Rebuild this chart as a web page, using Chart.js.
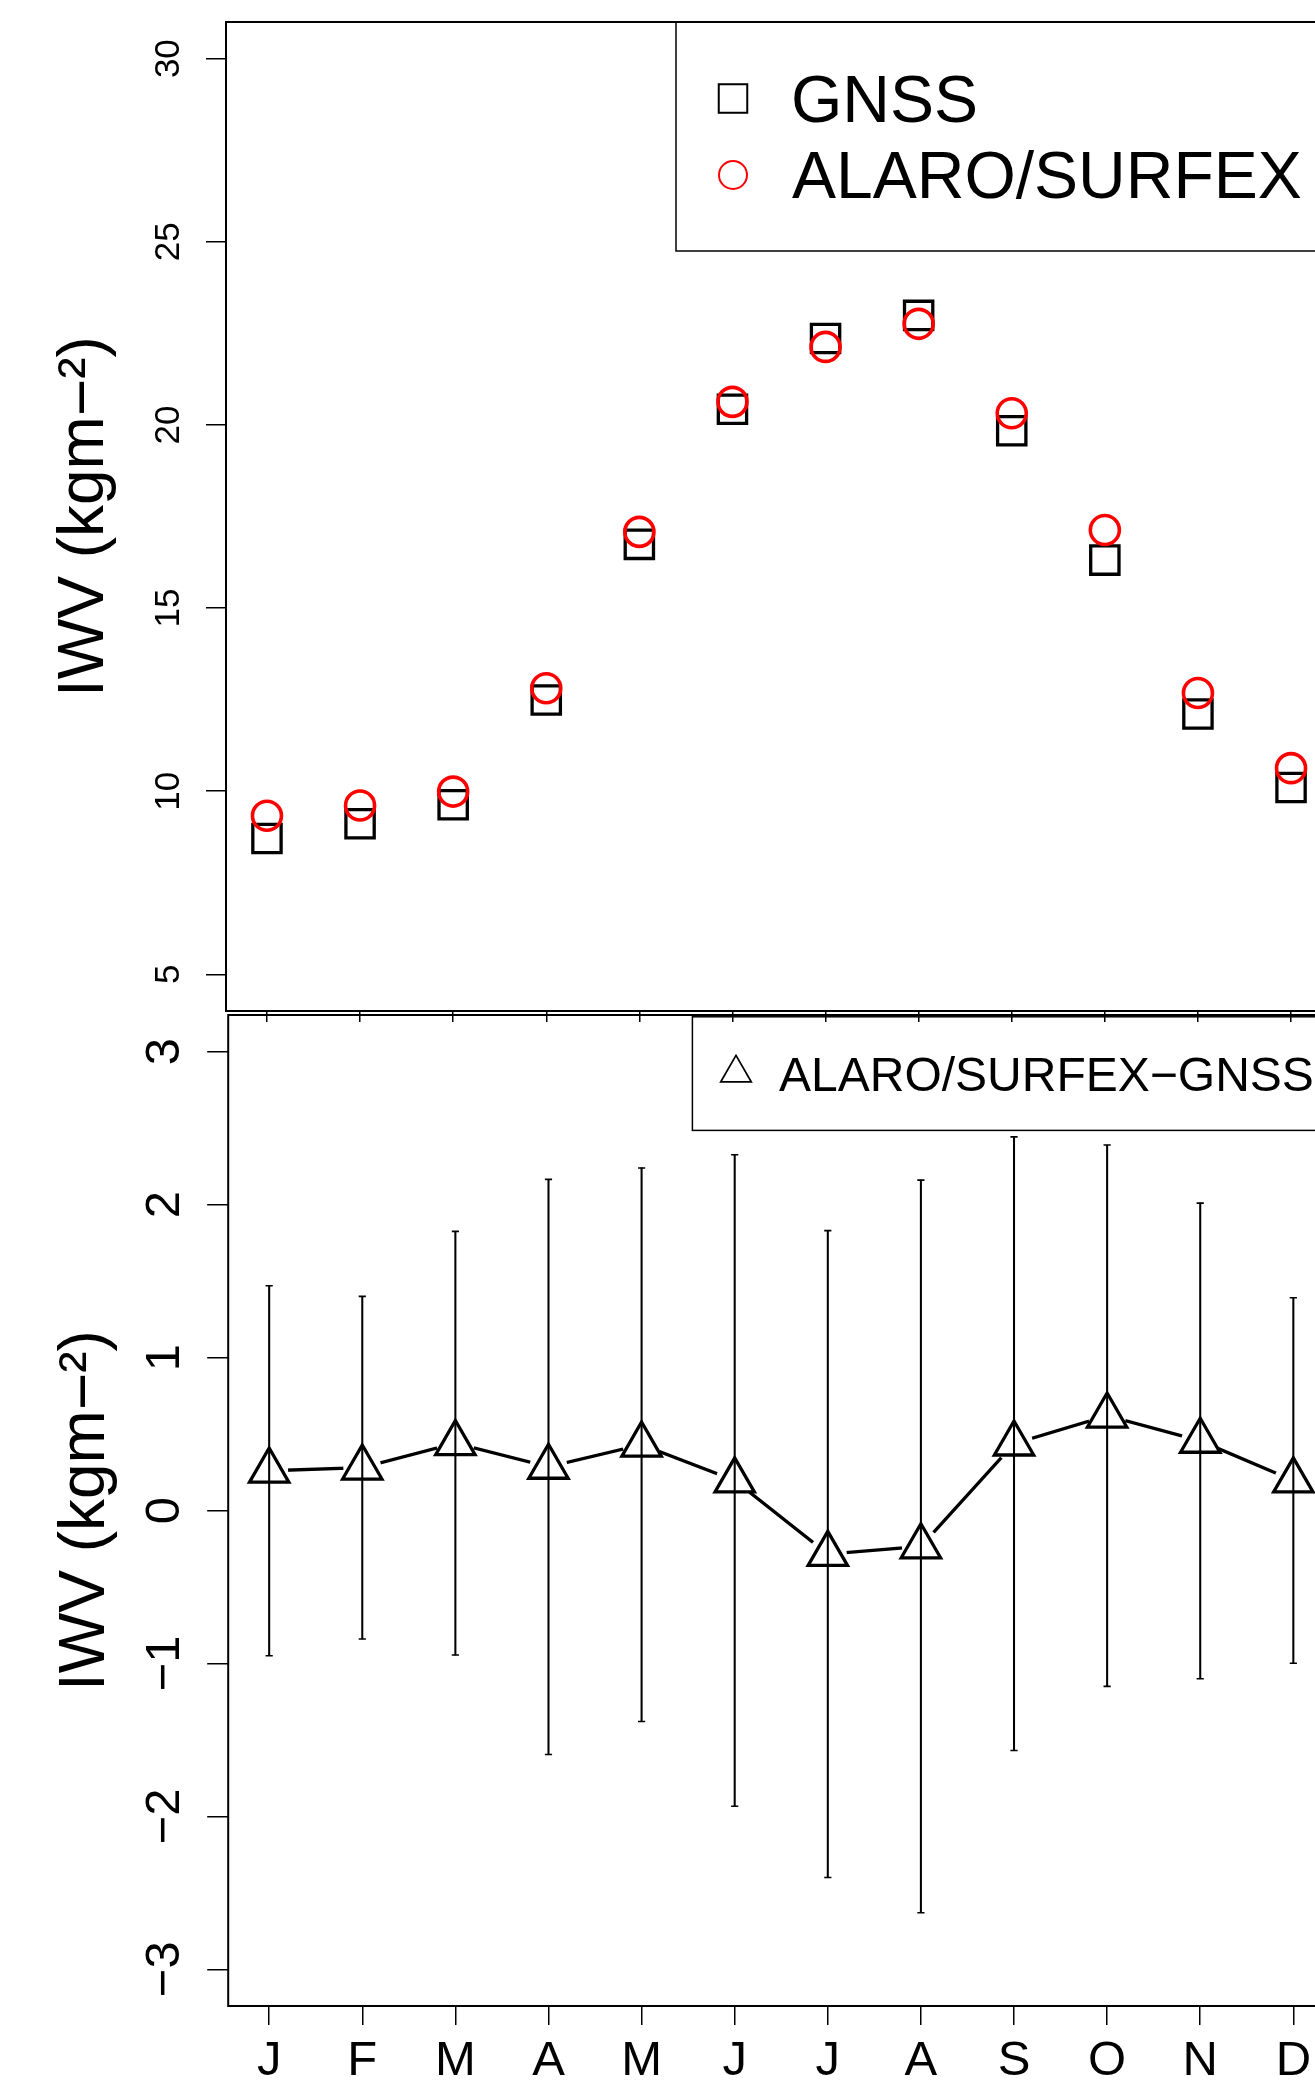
<!DOCTYPE html>
<html><head><meta charset="utf-8">
<script src="https://cdn.jsdelivr.net/npm/chart.js@4.4.1/dist/chart.umd.min.js"></script>
<style>
html,body{margin:0;padding:0;background:#fff;width:1315px;height:2081px;overflow:hidden;}
#wrap{position:absolute;left:0;top:0;width:1345px;height:2081px;}
canvas{position:absolute;left:0;top:0;}
#cBottom{z-index:1}
#cTop{z-index:2}
</style></head>
<body>
<div id="wrap">
<canvas id="cBottom" width="1345" height="2081" style="width:1345px;height:2081px"></canvas>
<canvas id="cTop" width="1345" height="2081" style="width:1345px;height:2081px"></canvas>
</div>
<script>
// ---- data ----
const months = ['J','F','M','A','M','J','J','A','S','O','N','D'];
const gnss   = [8.71, 9.11, 9.63, 12.49, 16.74, 20.43, 22.36, 22.99, 19.84, 16.31, 12.11, 10.10];
const alaro  = [9.33, 9.61, 9.99, 12.81, 17.08, 20.63, 22.13, 22.76, 20.32, 17.13, 12.68, 10.63];
const diff   = [0.26, 0.28, 0.44, 0.285, 0.43, 0.196, -0.285, -0.235, 0.437, 0.62, 0.455, 0.196];
const diffSd = [1.21, 1.12, 1.385, 1.88, 1.81, 2.13, 2.115, 2.395, 2.006, 1.77, 1.555, 1.195];
const topTicks = [5, 10, 15, 20, 25, 30];
const topTickLabels = ['5', '10', '15', '20', '25', '30'];
const bottomTicks = [-3, -2, -1, 0, 1, 2, 3];
const bottomTickLabels = ['\u22123', '\u22122', '\u22121', '0', '1', '2', '3'];
const yTitle = 'IWV (kgm\u2212\u00B2)';
const legendTop = ['GNSS', 'ALARO/SURFEX'];
const legendBottom = ['ALARO/SURFEX\u2212GNSS'];

const FONT = "'Liberation Sans', Arial, Helvetica, sans-serif";
Chart.defaults.font.family = FONT;
Chart.defaults.color = '#000';
Chart.defaults.animation = false;

const xs = months.map((m, i) => i + 1);
const pts = arr => arr.map((v, i) => ({x: xs[i], y: v}));

const boxPlugin = {
  id: 'box',
  afterDatasetsDraw(chart) {
    const {ctx, chartArea: a} = chart;
    ctx.save();
    ctx.strokeStyle = '#000';
    ctx.lineWidth = 2;
    ctx.strokeRect(a.left, a.top, a.right - a.left, a.bottom - a.top);
    ctx.restore();
  }
};

function noPad(s) { s.paddingTop = 0; s.paddingBottom = 0; s.paddingLeft = 0; s.paddingRight = 0; }

function xScale(tickLen, showLabels, h) {
  return {
    type: 'linear', min: 0.56, max: 12.44, offset: false,
    afterBuildTicks: s => { s.ticks = xs.map(v => ({value: v})); },
    afterFit: s => { s.height = h; noPad(s); },
    border: {display: false},
    grid: {offset: false, drawOnChartArea: false, drawTicks: true, tickLength: tickLen, color: '#000', lineWidth: 1.5},
    ticks: {display: showLabels, autoSkip: false, maxRotation: 0, minRotation: 0,
            font: {size: 49}, padding: 7, color: '#000',
            callback: v => months[Math.round(v) - 1]}
  };
}

// ---- top chart ----
const topLegendPlugin = {
  id: 'topLegend',
  afterDraw(chart) {
    const {ctx, chartArea: a} = chart;
    ctx.save();
    ctx.strokeStyle = '#000';
    ctx.lineWidth = 1.5;
    ctx.strokeRect(676, a.top, a.right - 676, 251 - a.top);
    ctx.lineWidth = 2;
    ctx.strokeRect(733 - 14.25, 98.5 - 14.25, 28.5, 28.5);
    ctx.strokeStyle = '#FF0000';
    ctx.beginPath(); ctx.arc(733, 175, 14, 0, Math.PI * 2); ctx.stroke();
    ctx.fillStyle = '#000';
    ctx.font = '66px ' + FONT;
    ctx.textBaseline = 'alphabetic';
    ctx.fillText(legendTop[0], 791, 122);
    ctx.fillText(legendTop[1], 792, 198);
    ctx.restore();
  }
};

new Chart(document.getElementById('cTop'), {
  type: 'line',
  data: {
    datasets: [
      {label: legendTop[0], data: pts(gnss), showLine: false, order: 2,
       pointStyle: 'rect', pointRadius: 20, pointBorderWidth: 3.3,
       pointBorderColor: '#000', pointBackgroundColor: 'rgba(0,0,0,0)'},
      {label: legendTop[1], data: pts(alaro), showLine: false, order: 1,
       pointStyle: 'circle', pointRadius: 14.5, pointBorderWidth: 3.6,
       pointBorderColor: '#FF0000', pointBackgroundColor: 'rgba(0,0,0,0)'}
    ]
  },
  options: {
    responsive: false, maintainAspectRatio: false, events: [],
    layout: {autoPadding: false, padding: {left: 0, top: 22, right: 13, bottom: 2081 - 1011 - 20}},
    plugins: {legend: {display: false}, tooltip: {enabled: false}},
    scales: {
      x: xScale(11, false, 20),
      y: {
        type: 'linear', min: 4, max: 31,
        afterBuildTicks: s => { s.ticks = topTicks.map(v => ({value: v})); },
        afterFit: s => { s.width = 226; noPad(s); },
        border: {display: false},
        grid: {drawOnChartArea: false, drawTicks: true, tickLength: 20, color: '#000', lineWidth: 1.5},
        ticks: {autoSkip: false, minRotation: 90, maxRotation: 90, crossAlign: 'center',
                font: {size: 35}, padding: 17, color: '#000',
                callback: v => topTickLabels[topTicks.indexOf(v)]},
        title: {display: true, text: yTitle, font: {size: 64}, padding: {top: 47, bottom: 0}, color: '#000'}
      }
    }
  },
  plugins: [boxPlugin, topLegendPlugin]
});

// ---- bottom chart ----
const bottomLegendPlugin = {
  id: 'bottomLegend',
  afterDraw(chart) {
    const {ctx, chartArea: a} = chart;
    ctx.save();
    ctx.strokeStyle = '#000';
    ctx.lineWidth = 1.5;
    ctx.strokeRect(692.4, 1016.8, a.right - 692.4, 1130.4 - 1016.8);
    const cx = 736, cy = 1073.1, r = 17.7;
    ctx.lineWidth = 1.7;
    ctx.beginPath();
    ctx.moveTo(cx, cy - r);
    ctx.lineTo(cx + r * Math.sin(2 * Math.PI / 3), cy + r / 2);
    ctx.lineTo(cx - r * Math.sin(2 * Math.PI / 3), cy + r / 2);
    ctx.closePath(); ctx.stroke();
    ctx.fillStyle = '#000';
    ctx.font = '48px ' + FONT;
    ctx.fillText(legendBottom[0], 779, 1091);
    ctx.restore();
  }
};

const hi = diff.map((v, i) => v + diffSd[i]);
const lo = diff.map((v, i) => v - diffSd[i]);

new Chart(document.getElementById('cBottom'), {
  type: 'line',
  data: {
    datasets: [
      {label: 'line', data: pts(diff), order: 10, borderColor: '#000', borderWidth: 3.3,
       pointRadius: 0, tension: 0},
      {label: 'gap', data: pts(diff), order: 9, showLine: false,
       pointStyle: 'circle', pointRadius: 19, pointBorderWidth: 0,
       pointBorderColor: '#fff', pointBackgroundColor: '#fff'},
      {type: 'bar', label: 'sd', order: 8,
       data: diff.map((v, i) => ({x: xs[i], y: [lo[i], hi[i]]})),
       backgroundColor: '#000', borderWidth: 0, barThickness: 1.4},
      {label: 'capHi', data: pts(hi), order: 7, showLine: false,
       pointStyle: 'line', pointRadius: 3.6, pointBorderWidth: 1.6, pointBorderColor: '#000'},
      {label: 'capLo', data: pts(lo), order: 7, showLine: false,
       pointStyle: 'line', pointRadius: 3.6, pointBorderWidth: 1.6, pointBorderColor: '#000'},
      {label: legendBottom[0], data: pts(diff), order: 6, showLine: false,
       pointStyle: 'triangle', pointRadius: 22.7, pointBorderWidth: 3.3,
       pointBorderColor: '#000', pointBackgroundColor: 'rgba(0,0,0,0)'}
    ]
  },
  options: {
    responsive: false, maintainAspectRatio: false, events: [],
    layout: {autoPadding: false, padding: {left: 0, top: 1015, right: 10.7, bottom: 0}},
    plugins: {legend: {display: false}, tooltip: {enabled: false}},
    scales: {
      x: xScale(19, true, 75),
      y: {
        type: 'linear', min: -3.24, max: 3.24,
        afterBuildTicks: s => { s.ticks = bottomTicks.map(v => ({value: v})); },
        afterFit: s => { s.width = 228.2; noPad(s); },
        border: {display: false},
        grid: {drawOnChartArea: false, drawTicks: true, tickLength: 21, color: '#000', lineWidth: 1.5},
        ticks: {autoSkip: false, minRotation: 90, maxRotation: 90, crossAlign: 'center',
                font: {size: 49}, padding: 14, color: '#000',
                callback: v => bottomTickLabels[bottomTicks.indexOf(v)]},
        title: {display: true, text: yTitle, font: {size: 64}, padding: {top: 48, bottom: 0}, color: '#000'}
      }
    }
  },
  plugins: [boxPlugin, bottomLegendPlugin]
});
</script>
</body></html>
